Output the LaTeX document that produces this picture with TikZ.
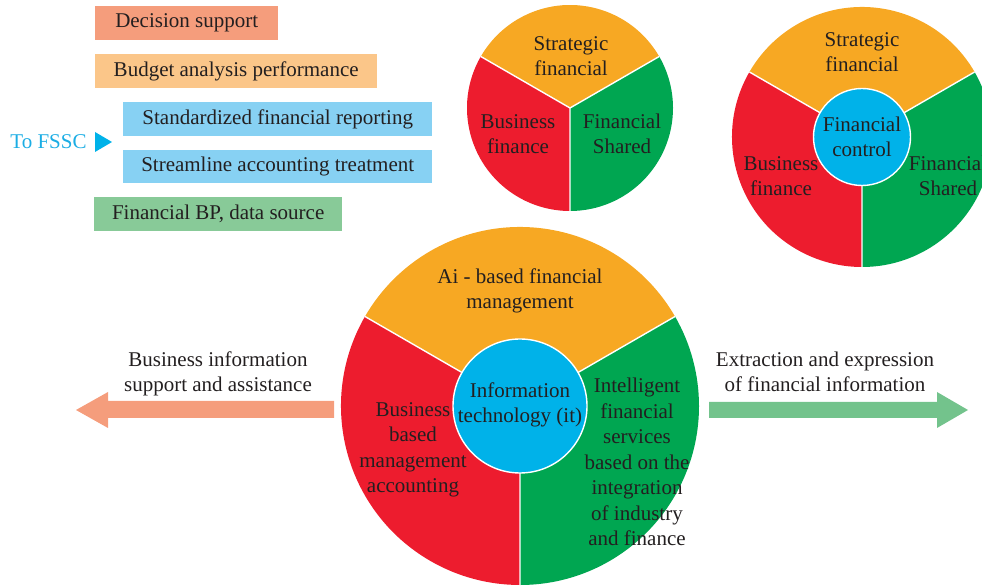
\documentclass[tikz,border=0pt]{standalone}
\usepackage{fontspec}
\setmainfont{Liberation Serif}
\definecolor{txt}{HTML}{231F20}
\definecolor{sorange}{HTML}{F7A823}
\definecolor{sred}{HTML}{ED1C2E}
\definecolor{sgreen}{HTML}{00A651}
\definecolor{scyan}{HTML}{00B2E9}
\definecolor{bsalmon}{HTML}{F59D7C}
\definecolor{borange}{HTML}{FBC689}
\definecolor{bblue}{HTML}{87D1F3}
\definecolor{bgreen}{HTML}{88CA98}
\definecolor{agreen}{HTML}{73C38C}
\definecolor{fssc}{HTML}{1BADE4}
\newcommand\mypie[2]{%
  \fill[sorange] (#1) -- +(30:#2) arc[start angle=30,end angle=150,radius=#2] -- cycle;
  \fill[sred] (#1) -- +(150:#2) arc[start angle=150,end angle=270,radius=#2] -- cycle;
  \fill[sgreen] (#1) -- +(270:#2) arc[start angle=270,end angle=390,radius=#2] -- cycle;
  \draw[sep] (#1) -- +(30:#2) (#1) -- +(150:#2) (#1) -- +(270:#2);
}
\begin{document}
\begin{tikzpicture}[x=1pt,y=1pt,
  lbl/.style={text=txt,align=center,font=\fontsize{21}{25.5}\selectfont,inner sep=0pt},
  tagbox/.style={lbl,minimum height=34pt,anchor=north west},
  sep/.style={draw=white,line width=1.4pt},
  hub/.style={circle,fill=scyan,draw=white,line width=1.4pt,inner sep=0pt},
]
\useasboundingbox (0,0) rectangle (982,586);
\clip (0,0) rectangle (982,586);

% left tag boxes
\node[tagbox,fill=bsalmon,minimum width=183pt] (ds) at (95,580) {Decision support};
\node[tagbox,fill=borange,minimum width=282pt] (ba) at (95,532) {Budget analysis performance};
\node[tagbox,fill=bblue,minimum width=309pt] (sf) at (123,484) {Standardized financial reporting};
\node[tagbox,fill=bblue,minimum width=309pt,minimum height=33pt] (sa) at (123,436) {Streamline accounting treatment};
\node[tagbox,fill=bgreen,minimum width=248pt] (bp) at (94,389) {Financial BP, data source};
\node[lbl,text=fssc] (fssc) at (48.5,444) {To FSSC};
\fill[scyan] (95,454) -- (95,434) -- (112,444) -- cycle;

% pie 1
\coordinate (p1) at (570,478);
\mypie{p1}{103}
\node[lbl] (p1s) at (571,530) {Strategic\\financial};
\node[lbl] (p1b) at (518,452) {Business\\finance};
\node[lbl] (p1f) at (622,452) {Financial\\Shared};

% pie 2
\coordinate (p2) at (862,449);
\mypie{p2}{130}
\node[hub,minimum size=97pt] (p2c) at (p2) {};
\node[lbl] (p2s) at (862,534) {Strategic\\financial};
\node[lbl] (p2t) at (862,449) {Financial\\control};
\node[lbl] (p2b) at (781,410) {Business\\finance};
\node[lbl] (p2f) at (948,410) {Financial\\Shared};

% big pie
\coordinate (p3) at (520,180);
\mypie{p3}{179}
\node[hub,minimum size=134pt] (p3c) at (p3) {};
\node[lbl] (p3a) at (520,295) {Ai - based financial\\management};
\node[lbl] (p3t) at (520,181) {Information\\technology (it)};
\node[lbl] (p3b) at (413,136) {Business\\based\\management\\accounting};
\node[lbl] (p3i) at (637,124) {Intelligent\\financial\\services\\based on the\\integration\\of industry\\and finance};

% side arrows
\fill[bsalmon] (76,176) -- (108,194) -- (108,185) -- (334,185) -- (334,168) -- (108,168) -- (108,158) -- cycle;
\node[lbl] (lt) at (218,212) {Business information\\support and assistance};
\fill[agreen] (968,176) -- (937,194) -- (937,184) -- (709,184) -- (709,168) -- (937,168) -- (937,158) -- cycle;
\node[lbl] (rt) at (825,214) {Extraction and expression\\of financial information};
\end{tikzpicture}
\end{document}
